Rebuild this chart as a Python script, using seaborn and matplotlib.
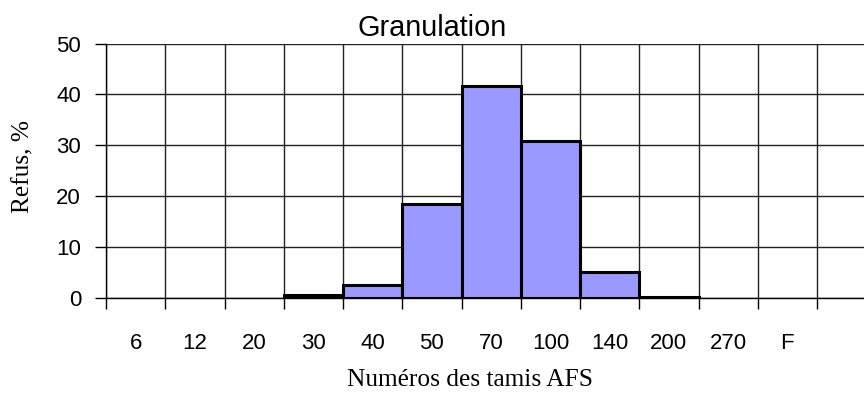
import numpy as np
import pandas as pd
import matplotlib
matplotlib.use("Agg")
import matplotlib.pyplot as plt
from matplotlib.ticker import FixedLocator
import seaborn as sns

# Sieve numbers (AFS) and retained fraction per sieve
sieves = ["6", "12", "20", "30", "40", "50", "70", "100", "140", "200", "270", "F"]
refus = [0, 0, 0, 0.6, 2.6, 18.6, 41.6, 30.9, 5.1, 0.3, 0, 0]
yticks = [0, 10, 20, 30, 40, 50]

title = "Granulation"
xlabel = "Numéros des tamis AFS"
ylabel = "Refus, %"

df = pd.DataFrame({"tamis": sieves, "refus": refus})

sns.set_style("ticks")
plt.rcParams["font.family"] = ["Liberation Sans", "DejaVu Sans"]
plt.rcParams["text.color"] = "black"
plt.rcParams["xtick.color"] = "black"
plt.rcParams["ytick.color"] = "black"
plt.rcParams["axes.labelcolor"] = "black"

W, H, DPI = 864, 394, 100
fig = plt.figure(figsize=(W / DPI, H / DPI), dpi=DPI)
left_px, right_px, top_px, bottom_px = 106, 864, 43.5, 298.3
ax = fig.add_axes([left_px / W, 1 - bottom_px / H,
                   (right_px - left_px) / W, (bottom_px - top_px) / H])

sns.barplot(data=df, x="tamis", y="refus", order=sieves, width=1.0,
            color="#9999FF", saturation=1, edgecolor="black", linewidth=2.2,
            ax=ax, zorder=3)

# empty sieves: no outline on zero-height bars
for patch, v in zip(ax.patches, refus):
    if v == 0:
        patch.set_linewidth(0)

cat_w = 59.25
ax.set_xlim(-0.5, -0.5 + (right_px - left_px) / cat_w)
ax.set_ylim(0, 50)
ax.set_yticks(yticks)
ax.set_yticklabels([str(t) for t in yticks], fontsize=16, color="black")

ax.set_xticks(range(len(sieves)))
ax.set_xticklabels(sieves, fontsize=16, color="black")
ax.xaxis.set_minor_locator(FixedLocator(np.arange(-0.5, len(sieves) + 0.5, 1.0)))
ax.tick_params(axis="x", which="major", length=0, pad=25)
ax.tick_params(axis="x", which="minor", length=8, width=1, color="black", direction="out")
ax.tick_params(axis="y", which="major", length=8, width=1, color="black",
               direction="out", pad=10)

ax.set_axisbelow(True)
ax.grid(False)
ax.yaxis.grid(True, color="#222222", linewidth=1)
ax.xaxis.grid(True, which="minor", color="#222222", linewidth=1)

for s in ["top", "right"]:
    ax.spines[s].set_visible(False)
for s in ["left", "bottom"]:
    ax.spines[s].set_color("black")
    ax.spines[s].set_linewidth(1)
    ax.spines[s].set_zorder(4)

ax.set_xlabel("")
ax.set_ylabel("")

fig.text(432 / W, 1 - 36 / H, title, ha="center", va="baseline", color="black",
         fontsize=20.8, family=["Liberation Sans", "DejaVu Sans"])
fig.text(470 / W, 1 - 386.5 / H, xlabel, ha="center", va="baseline", color="black",
         fontsize=18.3, family=["Liberation Serif", "DejaVu Serif"])
fig.text(23 / W, 1 - 166 / H, ylabel, ha="center", va="center", rotation=90,
         color="black", fontsize=18.3, family=["Liberation Serif", "DejaVu Serif"])

fig.savefig("out.png", dpi=DPI)
